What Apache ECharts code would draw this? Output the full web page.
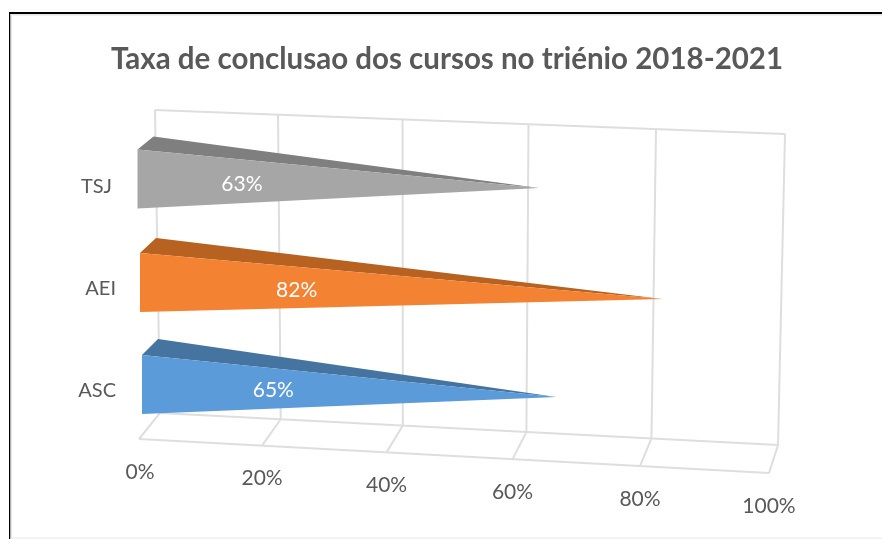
<!DOCTYPE html>
<html>
<head>
<meta charset="utf-8">
<title>Taxa de conclusao</title>
<script src="https://cdn.jsdelivr.net/npm/echarts@6/dist/echarts.min.js"></script>
<style>
    html, body { margin: 0; padding: 0; background: #fff; }
    #chart { width: 882px; height: 539px; }
</style>
</head>
<body>
<div id="chart"></div>
<script>
    const categories = ['ASC', 'AEI', 'TSJ']
    const completion = [65, 82, 63]
    const tickValues = [0, 20, 40, 60, 80, 100]

    const faceColors = ['#5B9BD9', '#F38233', '#A6A6A6']
    const topColors = ['#44749F', '#B86222', '#7F7F7F']

    // look of the fake 3D, in pixels from the plot area
    const gridBox = { left: 140, top: 130, width: 635, height: 306 }
    const coneSkew = [2, 0, -2.5]
    const coneRaise = [-0.5, -0.5, -2]
    const coneTilt = [12.5, 16.5, 9]
    const coneBack = [[16, -16], [16, -15], [16, -13]]
    const labelAt = [0.317, 0.30, 0.26]
    const labelDrop = [6, 8, 5.5]
    const coneHalf = 29.5

    // [left corner, right corner], offsets from plot left/right and plot bottom
    const wallTop = [[15, -326], [10, -302]]
    const wallFoot = [[20, -23], [3, 9]]
    const floorFront = [[-1, 3], [-6, 37]]

    function onPlane(plane, v, x0, x100, bottom) {
        const t = v / 100
        const t2 = t / (1 + 0.03 * (1 - t))
        const lx = x0 + plane[0][0], ly = bottom + plane[0][1]
        const rx = x100 + plane[1][0], ry = bottom + plane[1][1]
        return [lx + (rx - lx) * t2, ly + (ry - ly) * t2]
    }

    function gridLine(points) {
        return {
            type: 'polyline',
            shape: { points: points },
            style: { stroke: '#DEDEDE', lineWidth: 2, fill: null }
        }
    }

    function renderWalls(params, api) {
        const v = api.value(0)
        const bottom = gridBox.top + gridBox.height
        const x0 = api.coord([0, categories[0]])[0]
        const x100 = api.coord([100, categories[0]])[0]
        const top = onPlane(wallTop, v, x0, x100, bottom)
        const foot = onPlane(wallFoot, v, x0, x100, bottom)
        const front = onPlane(floorFront, v, x0, x100, bottom)
        const children = [gridLine([top, foot, front])]
        if (v === 0) {
            [wallTop, wallFoot, floorFront].forEach(function (plane) {
                children.push(gridLine([
                    onPlane(plane, 0, x0, x100, bottom),
                    onPlane(plane, 100, x0, x100, bottom)
                ]))
            })
        }
        children.push({
            type: 'text',
            style: {
                text: v + '%',
                x: front[0] + (v === 0 ? 1 : 0),
                y: front[1] + 33,
                align: 'center',
                verticalAlign: 'middle',
                fill: '#595959',
                font: '21px Lato'
            }
        })
        return { type: 'group', children: children }
    }

    function renderCone(params, api) {
        const i = params.dataIndex
        const base = api.coord([0, categories[i]])
        const end = api.coord([api.value(0), categories[i]])
        const bx = base[0] + coneSkew[i]
        const by = base[1] + coneRaise[i]
        const tip = [end[0] + coneSkew[i] + 1.5, by + coneTilt[i]]
        const upper = [bx, by - coneHalf]
        const lower = [bx, by + coneHalf]
        const back = [bx + coneBack[i][0], upper[1] + coneBack[i][1]]
        return {
            type: 'group',
            children: [
                { type: 'polygon', shape: { points: [back, tip, upper] }, style: { fill: topColors[i] } },
                { type: 'polygon', shape: { points: [upper, tip, lower] }, style: { fill: faceColors[i] } },
                {
                    type: 'text',
                    style: {
                        text: api.value(0) + '%',
                        x: bx + (tip[0] - bx) * labelAt[i],
                        y: by + labelDrop[i],
                        align: 'center',
                        verticalAlign: 'middle',
                        fill: '#fff',
                        font: '21px Lato'
                    }
                }
            ]
        }
    }

    const option = {
        animation: false,
        backgroundColor: '#fff',
        title: {
            text: 'Taxa de conclusao dos cursos no triénio 2018-2021',
            left: 442,
            top: 39,
            textAlign: 'center',
            textStyle: { color: '#595959', fontFamily: 'Lato', fontWeight: 'bold', fontSize: 29.5 }
        },
        grid: gridBox,
        xAxis: {
            type: 'value',
            min: 0,
            max: 100,
            interval: 20,
            axisLine: { show: false },
            axisTick: { show: false },
            axisLabel: { show: false },
            splitLine: { show: false }
        },
        yAxis: {
            type: 'category',
            data: categories,
            axisLine: { show: false },
            axisTick: { show: false },
            axisLabel: {
                margin: 24,
                formatter: function (name) {
                    return name === 'TSJ' ? '{back|' + name + '}' : '{plain|' + name + '}'
                },
                rich: {
                    plain: { color: '#595959', fontFamily: 'Lato', fontSize: 20, padding: [11, 0, 0, 0] },
                    back: { color: '#595959', fontFamily: 'Lato', fontSize: 20, padding: [12, 4, 0, 0] }
                }
            }
        },
        graphic: [
            { type: 'rect', shape: { x: 9, y: 12, width: 873, height: 2 }, style: { fill: '#000' } },
            { type: 'rect', shape: { x: 9, y: 12, width: 1.5, height: 527 }, style: { fill: '#000' } },
            { type: 'rect', shape: { x: 10.5, y: 14, width: 872, height: 1.5 }, style: { fill: '#E4E4E4' } },
            { type: 'rect', shape: { x: 10.5, y: 14, width: 1.5, height: 525 }, style: { fill: '#E4E4E4' } },
            { type: 'rect', shape: { x: 10.5, y: 537.5, width: 872, height: 1 }, style: { fill: '#E8E8E8' } }
        ],
        series: [
            {
                type: 'custom',
                coordinateSystem: 'cartesian2d',
                renderItem: renderWalls,
                encode: { x: 0 },
                data: tickValues.map(function (v) { return [v] }),
                silent: true
            },
            {
                type: 'custom',
                coordinateSystem: 'cartesian2d',
                renderItem: renderCone,
                encode: { x: 0, y: 1 },
                data: completion.map(function (v, i) { return [v, categories[i]] })
            }
        ]
    }

    const chart = echarts.init(document.getElementById('chart'))
    chart.setOption(option)
    window.addEventListener('resize', function () { chart.resize() })
</script>
</body>
</html>
